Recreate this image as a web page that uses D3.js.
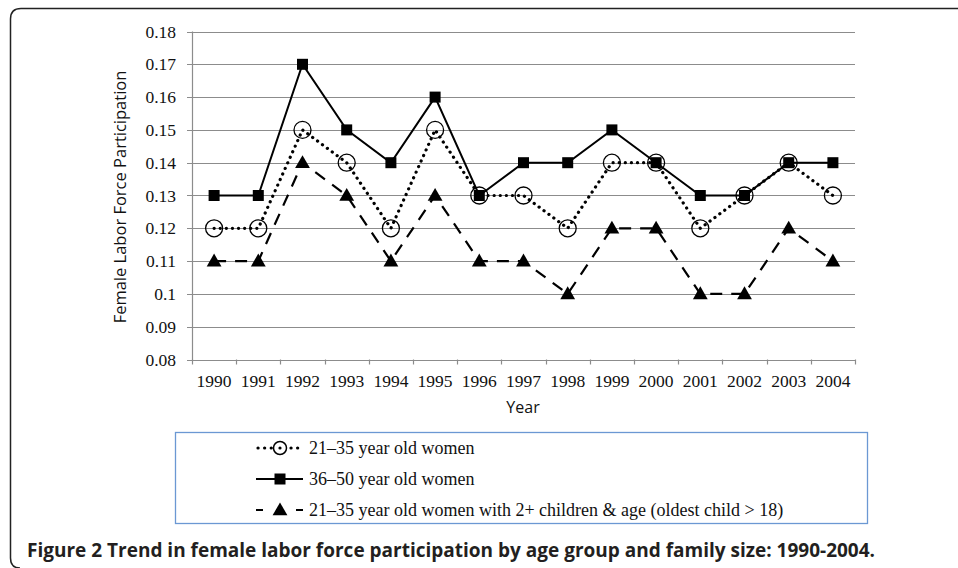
<!DOCTYPE html>
<html>
<head>
<meta charset="utf-8">
<script src="https://cdn.jsdelivr.net/npm/d3@7"></script>
<style>
  body { margin: 0; background: #fff; }
  svg { display: block; }
</style>
</head>
<body>
<svg id="chart" width="958" height="568"></svg>
<script>
var years = ["1990", "1991", "1992", "1993", "1994", "1995", "1996", "1997", "1998", "1999", "2000", "2001", "2002", "2003", "2004"]
var young = [0.12, 0.12, 0.15, 0.14, 0.12, 0.15, 0.13, 0.13, 0.12, 0.14, 0.14, 0.12, 0.13, 0.14, 0.13]
var older = [0.13, 0.13, 0.17, 0.15, 0.14, 0.16, 0.13, 0.14, 0.14, 0.15, 0.14, 0.13, 0.13, 0.14, 0.14]
var youngKids = [0.11, 0.11, 0.14, 0.13, 0.11, 0.13, 0.11, 0.11, 0.10, 0.12, 0.12, 0.10, 0.10, 0.12, 0.11]
var yTicks = [0.08, 0.09, 0.1, 0.11, 0.12, 0.13, 0.14, 0.15, 0.16, 0.17, 0.18]
var seriesNames = [
  "21\u201335 year old women",
  "36\u201350 year old women",
  "21\u201335 year old women with 2+ children & age (oldest child > 18)"
]

var serif = "'Liberation Serif', 'Times New Roman', serif"
var sans = "'Open Sans', 'Noto Sans', sans-serif"

var svg = d3.select("#chart")

// outer frame, runs off the right and bottom edges
svg.append("path")
  .attr("d", "M 970 8.5 L 21 8.5 Q 10.5 8.5 10.5 19 L 10.5 558 Q 10.5 568 20 568")
  .attr("fill", "none")
  .attr("stroke", "#222")
  .attr("stroke-width", 1.5)

var plotLeft = 192, plotRight = 855, plotTop = 31.5, plotBottom = 359.5

var x = d3.scaleBand().domain(years).range([plotLeft, plotRight])
var y = d3.scaleLinear().domain([0.08, 0.18]).range([plotBottom, plotTop])

// gridlines
svg.append("g").selectAll("line")
  .data(yTicks)
  .enter().append("line")
  .attr("x1", plotLeft - 5)
  .attr("x2", plotRight)
  .attr("y1", function(d) { return Math.round(y(d)) + 0.5 })
  .attr("y2", function(d) { return Math.round(y(d)) + 0.5 })
  .attr("stroke", "#8c8c8c")
  .attr("stroke-width", 1.2)

// y axis line
svg.append("line")
  .attr("x1", plotLeft + 0.5).attr("x2", plotLeft + 0.5)
  .attr("y1", plotTop).attr("y2", plotBottom + 0.5)
  .attr("stroke", "#8c8c8c").attr("stroke-width", 1.2)

// y tick labels
svg.append("g").selectAll("text")
  .data(yTicks)
  .enter().append("text")
  .attr("x", plotLeft - 16)
  .attr("y", function(d) { return y(d) + 6 })
  .attr("text-anchor", "end")
  .attr("font-family", serif)
  .attr("font-size", 17.5)
  .attr("fill", "#111")
  .text(function(d) { return String(+d.toFixed(2)) })

// x ticks at band edges
var edges = years.map(function(d) { return x(d) }).concat([plotRight])
svg.append("g").selectAll("line")
  .data(edges)
  .enter().append("line")
  .attr("x1", function(d) { return Math.round(d) + 0.5 })
  .attr("x2", function(d) { return Math.round(d) + 0.5 })
  .attr("y1", plotBottom)
  .attr("y2", plotBottom + 5)
  .attr("stroke", "#8c8c8c").attr("stroke-width", 1.2)

svg.append("g").selectAll("text")
  .data(years)
  .enter().append("text")
  .attr("x", function(d) { return x(d) + x.bandwidth() / 2 })
  .attr("y", 387)
  .attr("text-anchor", "middle")
  .attr("font-family", serif)
  .attr("font-size", 17.5)
  .attr("fill", "#111")
  .text(function(d) { return d })

// axis titles
svg.append("text")
  .attr("x", 523).attr("y", 413)
  .attr("text-anchor", "middle")
  .attr("font-family", sans).attr("font-size", 16)
  .attr("fill", "#111")
  .text("Year")

svg.append("text")
  .attr("transform", "translate(126,197) rotate(-90)")
  .attr("text-anchor", "middle")
  .attr("font-family", sans).attr("font-size", 16.5)
  .attr("fill", "#111")
  .text("Female Labor Force Participation")

function cx(d, i) { return x(years[i]) + x.bandwidth() / 2 }

var line = d3.line()
  .x(function(d, i) { return cx(d, i) })
  .y(function(d) { return y(d) })

var styles = [
  { data: young, dash: "0.1 6", width: 3.2, cap: "round" },
  { data: older, dash: null, width: 2, cap: "butt" },
  { data: youngKids, dash: "12 9", width: 2.2, cap: "butt" }
]

function drawMarker(g, kind, px, py) {
  if (kind == 0) {
    g.append("circle").attr("cx", px).attr("cy", py).attr("r", 8.5)
      .attr("fill", "none").attr("stroke", "#000").attr("stroke-width", 1.3)
  } else if (kind == 1) {
    g.append("rect").attr("x", px - 5.5).attr("y", py - 5.5)
      .attr("width", 11).attr("height", 11).attr("fill", "#000")
  } else {
    g.append("path").attr("d", d3.symbol(d3.symbolTriangle, 95)())
      .attr("transform", "translate(" + px + "," + (py + 1) + ")")
      .attr("fill", "#000")
  }
}

styles.forEach(function(s, k) {
  var g = svg.append("g")
  g.append("path")
    .datum(s.data)
    .attr("d", line)
    .attr("fill", "none")
    .attr("stroke", "#000")
    .attr("stroke-width", s.width)
    .attr("stroke-linecap", s.cap)
    .attr("stroke-dasharray", s.dash)
  s.data.forEach(function(d, i) {
    drawMarker(g, k, cx(d, i), y(d))
  })
})

// legend
svg.append("rect")
  .attr("x", 175.5).attr("y", 432.5)
  .attr("width", 692).attr("height", 91)
  .attr("fill", "none")
  .attr("stroke", "#6b98d3")
  .attr("stroke-width", 1.3)

var legendRows = [448, 479, 510]
seriesNames.forEach(function(name, k) {
  var g = svg.append("g")
  var ly = legendRows[k]
  g.append("line")
    .attr("x1", k == 0 ? 258 : 256).attr("x2", 303)
    .attr("y1", ly).attr("y2", ly)
    .attr("stroke", "#000")
    .attr("stroke-width", styles[k].width)
    .attr("stroke-linecap", styles[k].cap)
    .attr("stroke-dasharray", k == 0 ? "0.1 6.5" : (k == 2 ? "7 13" : null))
  if (k == 0) {
    g.append("circle").attr("cx", 280).attr("cy", ly).attr("r", 6.5)
      .attr("fill", "#fff").attr("stroke", "#000").attr("stroke-width", 1.5)
    g.append("circle").attr("cx", 280).attr("cy", ly).attr("r", 1.6).attr("fill", "#000")
  } else {
    drawMarker(g, k, 280, ly)
  }
  g.append("text")
    .attr("x", 309).attr("y", ly + 6)
    .attr("font-family", serif).attr("font-size", 18)
    .attr("fill", "#111")
    .text(name)
})

// caption
svg.append("text")
  .attr("x", 27).attr("y", 557)
  .attr("font-family", sans).attr("font-size", 19)
  .attr("font-weight", "bold")
  .attr("fill", "#231f20")
  .text("Figure 2 Trend in female labor force participation by age group and family size: 1990-2004.")
</script>
</body>
</html>
